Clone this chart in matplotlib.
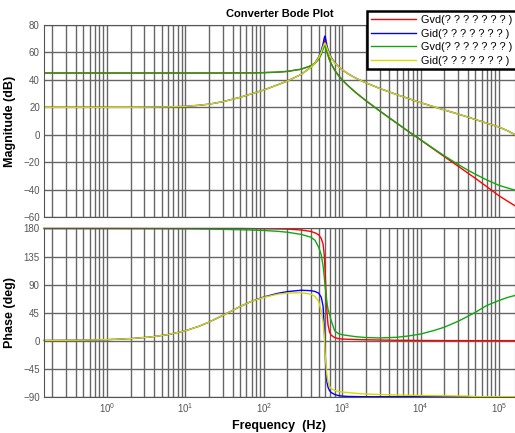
import numpy as np
import matplotlib
matplotlib.use("Agg")
import matplotlib.pyplot as plt

plt.rcParams['font.family'] = ['Liberation Sans', 'DejaVu Sans']
plt.rcParams['mathtext.fontset'] = 'custom'
plt.rcParams['mathtext.rm'] = 'Liberation Sans'

# frequency points (Hz)
freq = [0.157, 0.5, 1, 2, 3.5, 6, 10, 15, 20, 30, 50, 70, 100, 150, 200, 300,
        400, 450, 500, 540, 570, 590, 605, 620, 640, 660, 690, 720, 800, 900,
        1000, 1200, 1500, 2000, 3000, 5000, 7000, 10000, 15000, 20000, 30000,
        40000, 50000, 70000, 100000, 130000, 160000]

# magnitude (dB)
gvd1_mag = [45, 45, 45, 45, 45, 45, 45, 45, 45, 45, 45.1, 45.1, 45.3, 45.6, 46.2, 47.8,
            50.3, 52.2, 55.3, 59.4, 63.9, 68.1, 69.5, 65.6, 61.3, 58.2, 54.6, 52.1, 47.2, 43.1,
            40, 35.5, 30.6, 24.9, 17.4, 8.3, 2.4, -3.8, -10.9, -15.9, -22.9,
            -27.9, -31.8, -37.9, -44.5, -48.6, -51.8]
gid1_mag = [20, 20, 20, 20, 20.1, 20.3, 20.7, 21.5, 22.3, 24.1, 27.3, 29.9, 32.6, 36.4, 39.2, 44,
            49.3, 52.5, 56.5, 61.3, 66.2, 70.6, 72, 68.9, 64.8, 62, 58.8, 56.6, 52.7, 49.6,
            47.4, 44.3, 41.2, 37.9, 33.8, 29.2, 26.4, 23.4, 20.3, 18.1, 15.1,
            12.9, 11.1, 8.4, 5.6, 2.8, 0]
gvd2_mag = [45, 45, 45, 45, 45, 45, 45, 45, 45, 45, 45.1, 45.1, 45.3, 45.7, 46.2, 47.8,
            50.3, 52.2, 55, 58.5, 62.3, 64.3, 64.8, 63.2, 60.1, 57.5, 54.3, 52, 47.1, 43,
            40, 35.5, 30.6, 24.9, 17.4, 8.3, 2.4, -3.6, -10.5, -15.3, -21.6,
            -25.8, -28.8, -33, -36.9, -38.9, -40.4]
gid2_mag = [20, 20, 20, 20, 20.1, 20.3, 20.7, 21.5, 22.3, 24.1, 27.3, 29.9, 32.6, 36.4, 39.2, 44,
            49.2, 52.3, 56.1, 60.2, 64.2, 66.3, 66.8, 65.6, 63.2, 61, 58.3, 56.1, 52.5, 49.5,
            47.4, 44.3, 41.2, 37.9, 33.8, 29.2, 26.4, 23.4, 20.3, 18.1, 15.1,
            12.9, 11.1, 8.4, 5.6, 2.8, 0]

# phase (deg)
gvd1_ph = [180, 180, 180, 180, 180, 180, 180, 180, 180, 180, 180, 179.8, 179.6, 179.4, 179, 177.6,
           175.2, 173, 170, 164, 155, 138, 112, 80, 45, 25, 14, 9, 5, 3.2,
           2.6, 2.2, 1.8, 1.4, 1, 0.6, 0.5, 0.3, 0.2, 0.1, 0.1,
           0, 0, 0, 0, 0, 0]
gid1_ph = [0.3, 0.8, 1.6, 3.3, 5.7, 9.7, 15.9, 23.2, 29.7, 40.5, 54.8, 63.2, 70.1, 75.9, 78.7, 80.9,
           80.2, 78.9, 76.3, 69.8, 55.5, 20, -15, -49.7, -67.3, -74.9, -80.3, -83.1, -86.4, -88.2,
           -89, -89.6, -89.8, -90, -90, -90, -90, -90, -90, -90, -90,
           -90, -90, -90, -90, -90, -90]
gvd2_ph = [180, 180, 180, 179.9, 179.8, 179.7, 179.5, 179.2, 179, 178.6, 178, 177.5, 176.8, 175.5, 174, 170.5,
           166, 161, 150, 138, 120, 103, 88, 76, 60, 50, 42, 33, 16, 11,
           9.5, 8, 6.3, 5, 4.3, 5.4, 7.5, 10.6, 16.5, 21.5, 31,
           39, 45.5, 56.5, 64.5, 69.5, 72.5]
gid2_ph = [0.3, 0.8, 1.6, 3.3, 5.7, 9.7, 15.9, 23.2, 29.7, 40.5, 54.8, 63.2, 69.5, 74.5, 76.3, 77,
           74.5, 71, 63, 48, 30, 10, -20, -38, -57, -66, -73, -77, -80, -81.7,
           -82.5, -83.5, -84.5, -85.7, -86.5, -87.2, -87.6, -88, -88.3, -88.5, -88.8,
           -89, -89.8, -90, -90, -90, -90]

labels = ["Gvd(? ? ? ? ? ? ? )", "Gid(? ? ? ? ? ? ? )",
          "Gvd(? ? ? ? ? ? ? )", "Gid(? ? ? ? ? ? ? )"]
colors = ['#ff0000', '#0000ff', '#10a810', '#d8d800']

fig = plt.figure(figsize=(5.15, 4.33), dpi=100)
ax1 = fig.add_axes([0.0854, 0.4988, 0.9146, 0.4434])
ax2 = fig.add_axes([0.0854, 0.0838, 0.9146, 0.3885])

mags = [gvd1_mag, gid1_mag, gvd2_mag, gid2_mag]
phs = [gvd1_ph, gid1_ph, gvd2_ph, gid2_ph]
handles = []
for m, c, lab in zip(mags, colors, labels):
    h, = ax1.semilogx(freq, m, color=c, lw=1.0, label=lab)
    handles.append(h)
for p, c in zip(phs, colors):
    ax2.semilogx(freq, p, color=c, lw=1.0, clip_on=False)

gridc = '#666666'
for ax in (ax1, ax2):
    ax.set_xlim(0.157, 1.6e5)
    ax.set_xticks([1, 10, 100, 1000, 10000, 100000])
    ax.grid(True, which='major', axis='both', color=gridc, lw=1.0)
    ax.grid(True, which='minor', axis='x', color=gridc, lw=1.0)
    ax.tick_params(which='both', direction='in', length=0, labelsize=7,
                   labelcolor='#555555', pad=3)
    for s in ax.spines.values():
        s.set_color('#555555')
    ax.set_axisbelow(True)

ax1.set_ylim(-60, 80)
ax1.set_yticks(range(-60, 81, 20))
ax1.set_xticklabels([])
ax2.set_ylim(-90, 180)
ax2.set_yticks([-90, -45, 0, 45, 90, 135, 180])

ax1.set_title("Converter Bode Plot", fontsize=8, fontweight='bold', pad=6)
ax1.set_ylabel("Magnitude (dB)", fontsize=9, fontweight='bold', labelpad=5)
ax2.set_ylabel("Phase (deg)", fontsize=9, fontweight='bold', labelpad=5)
ax2.set_xlabel("Frequency  (Hz)", fontsize=9, fontweight='bold', labelpad=4)

leg = fig.legend(handles=handles, loc='upper right', bbox_to_anchor=(1.012, 0.986),
                 fontsize=7.8, frameon=True, fancybox=False, handlelength=4.2,
                 labelspacing=0.32, borderpad=0.35, handletextpad=0.4)
leg.get_frame().set_edgecolor('black')
leg.get_frame().set_linewidth(1.8)
leg.get_frame().set_alpha(1)

fig.savefig("out.png", dpi=100)
